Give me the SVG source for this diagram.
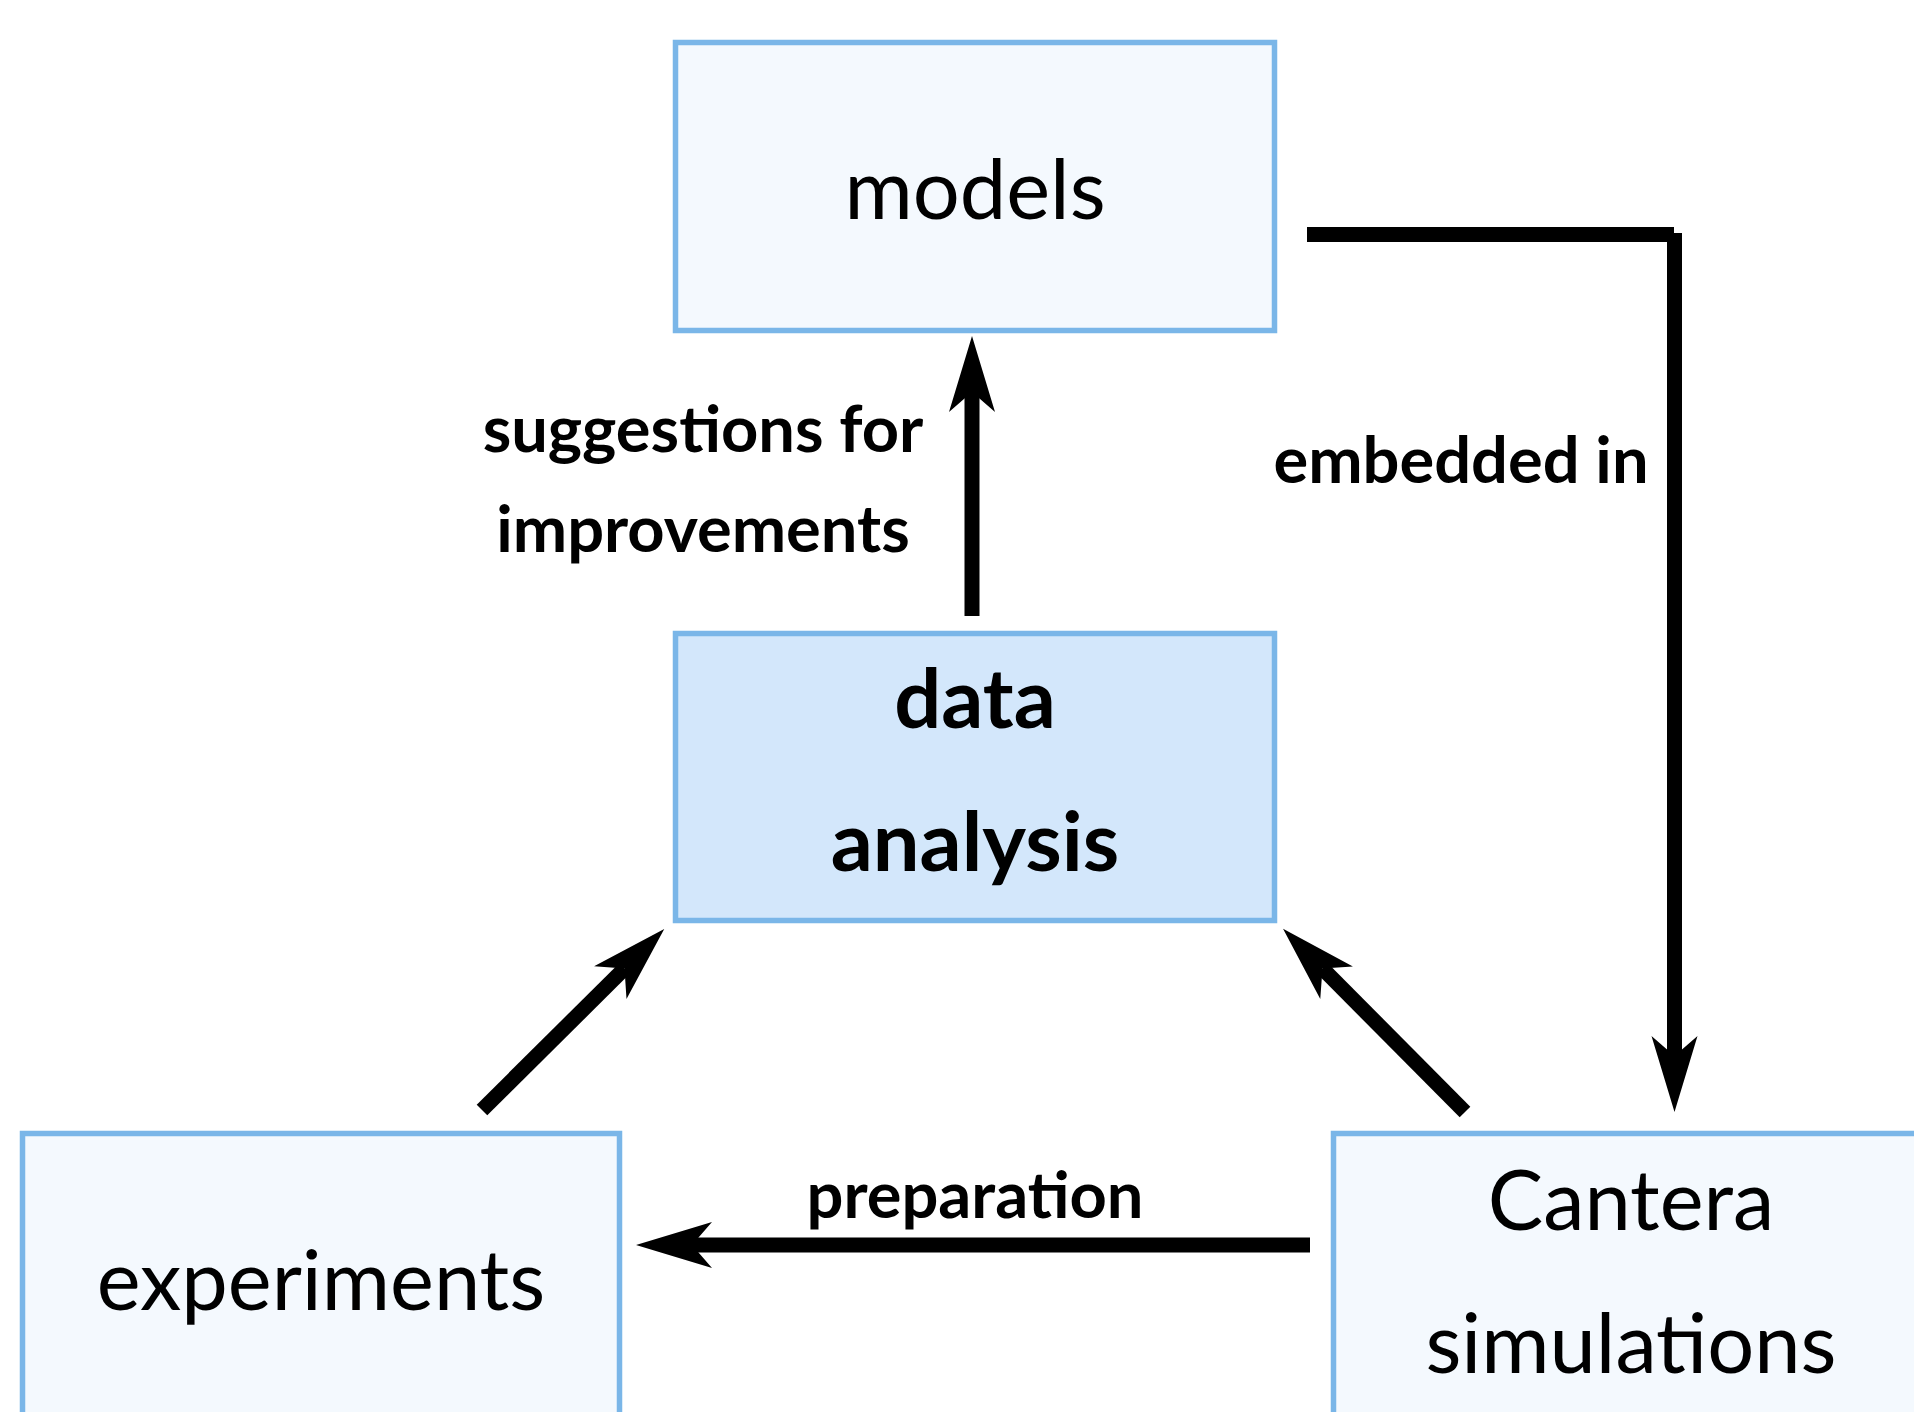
<svg xmlns="http://www.w3.org/2000/svg" width="1914" height="1412" viewBox="0 0 1914 1412">
<style>
.box{fill:#F4F9FE;stroke:#7AB6E8;stroke-width:5.5}
.hl{fill:#D3E7FB}
.nt{font-family:Lato,"Liberation Sans",sans-serif;font-size:83px;fill:#000;text-anchor:middle}
.b{font-weight:bold}
.lb{font-family:Lato,"Liberation Sans",sans-serif;font-size:65px;font-weight:bold;fill:#000;text-anchor:middle}
.ln{fill:none;stroke:#000;stroke-width:15;stroke-linecap:butt;marker-end:url(#ah)}
</style>
<defs>
<marker id="ah" markerUnits="userSpaceOnUse" orient="auto" viewBox="0 0 80 50" refX="22" refY="25" markerWidth="80" markerHeight="50">
<path d="M78,25 L2,2 L22,25 L2,48 Z" fill="#000"/>
</marker>
</defs>
<rect width="1914" height="1412" fill="#fff"/>
<g id="models">
<rect class="box" x="675.5" y="42.5" width="599" height="288"/>
<text class="nt" x="975" y="219">models</text>
</g>
<g id="data-analysis">
<rect class="box hl" x="675.5" y="633.5" width="599" height="287"/>
<text class="nt b" x="975" y="728">data</text>
<text class="nt b" x="975" y="871">analysis</text>
</g>
<g id="experiments">
<rect class="box" x="22.5" y="1133.5" width="597" height="290"/>
<text class="nt" x="321" y="1310">experiments</text>
</g>
<g id="cantera">
<rect class="box" x="1333.5" y="1133.5" width="597" height="290"/>
<text class="nt" x="1631" y="1230">Cantera</text>
<text class="nt" x="1631" y="1373">simulations</text>
</g>
<g id="connectors">
<path class="ln" d="M972,616 V392"/>
<path d="M1307,234.5 H1674" stroke="#000" stroke-width="15" fill="none"/>
<path class="ln" d="M1674.5,233 V1056"/>
<path class="ln" d="M1310,1245 H692"/>
<path class="ln" d="M482,1110 L624.5,968.5"/>
<path class="ln" d="M1465,1112 L1322.5,968.5"/>
<text class="lb" x="703" y="452">suggestions for</text>
<text class="lb" x="703" y="552">improvements</text>
<text class="lb" x="1461" y="483">embedded in</text>
<text class="lb" x="975" y="1218">preparation</text>
</g>
</svg>
